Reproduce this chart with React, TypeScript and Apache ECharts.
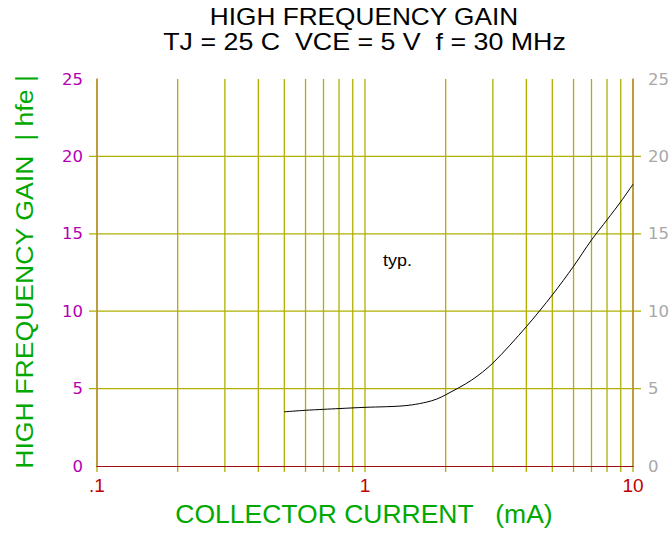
import React, { useEffect, useRef } from "react";
import * as echarts from "echarts";

const currentMA = [0.5, 0.6, 0.7, 0.8, 1.0, 1.2, 1.35, 1.5, 1.7, 1.85, 2.0, 2.5, 3, 4, 5, 6, 7, 8, 9, 10];
const hfe = [3.5, 3.6, 3.66, 3.71, 3.79, 3.83, 3.87, 3.95, 4.13, 4.32, 4.6, 5.55, 6.65, 9.0, 11.05, 12.9, 14.6, 15.9, 17.07, 18.2];
const gridX = [0.1, 0.2, 0.3, 0.4, 0.5, 0.6, 0.7, 0.8, 0.9, 1, 2, 3, 4, 5, 6, 7, 8, 9, 10];
const gridY = [5, 10, 15, 20];
const titleLines = ["HIGH FREQUENCY GAIN", "TJ = 25 C  VCE = 5 V  f = 30 MHz"];
const xName = "COLLECTOR CURRENT   (mA)";
const yName = "HIGH FREQUENCY GAIN  | hfe |";
const note = "typ.";

const GRID = "#b0b000";
const FONT = '"Liberation Sans", Arial, sans-serif';

export default function App() {
  const ref = useRef<HTMLDivElement>(null);
  useEffect(() => {
    if (!ref.current) return;
    const chart = echarts.init(ref.current, null, { renderer: "svg" });
    const option: any = {
      animation: false,
      backgroundColor: "#ffffff",
      grid: { left: 97, right: 39, top: 79, bottom: 67 },
      xAxis: [
        {
          type: "log",
          logBase: 10,
          min: 0.1,
          max: 10,
          position: "bottom",
          z: 2,
          axisLine: { show: true, lineStyle: { color: "#d02020", width: 1 } },
          axisTick: { show: false },
          splitLine: { show: false },
          minorSplitLine: { show: false },
          axisLabel: {
            color: "#c00000",
            fontFamily: FONT,
            fontSize: 19,
            margin: 10,
            formatter: (v: number) => (Math.abs(v - 0.1) < 1e-9 ? ".1" : String(Math.round(v))),
          },
        },
        {
          type: "log",
          logBase: 10,
          min: 0.1,
          max: 10,
          position: "top",
          z: 2,
          axisLine: { show: true, lineStyle: { color: "#a01010", width: 1 } },
          axisTick: { show: false },
          axisLabel: { show: false },
          splitLine: { show: false },
        },
      ],
      yAxis: [
        {
          type: "value",
          min: 0,
          max: 25,
          interval: 5,
          position: "left",
          z: 2,
          axisLine: { show: true, lineStyle: { color: "#b8913a", width: 1.6 } },
          axisTick: { show: false },
          splitLine: { show: false },
          axisLabel: { color: "#b400b4", fontFamily: '"DejaVu Sans", sans-serif', fontSize: 16.5, margin: 14 },
        },
        {
          type: "value",
          min: 0,
          max: 25,
          interval: 5,
          position: "right",
          z: 2,
          axisLine: { show: true, lineStyle: { color: "#b8913a", width: 1.6 } },
          axisTick: { show: false },
          splitLine: { show: false },
          axisLabel: { color: "#a8a8a8", fontFamily: '"DejaVu Sans", sans-serif', fontSize: 16.5, margin: 15 },
        },
      ],
      series: [
        {
          type: "custom",
          z: 1,
          silent: true,
          data: gridX.map((x) => [x, 0]),
          renderItem: (params: any, api: any) => {
            const x = api.value(0);
            const p0 = api.coord([x, 0]);
            const p1 = api.coord([x, 25]);
            return {
              type: "line",
              shape: { x1: p0[0], y1: p0[1] + 6, x2: p1[0], y2: p1[1] },
              style: { stroke: GRID, lineWidth: 1.3 },
            };
          },
        },
        {
          type: "custom",
          z: 1,
          silent: true,
          data: gridY.map((y) => [1, y]),
          renderItem: (params: any, api: any) => {
            const y = api.value(1);
            const p0 = api.coord([0.1, y]);
            const p1 = api.coord([10, y]);
            return {
              type: "line",
              shape: { x1: p0[0] - 8, y1: p0[1], x2: p1[0] + 8, y2: p1[1] },
              style: { stroke: GRID, lineWidth: 1.3 },
            };
          },
        },
        {
          type: "line",
          z: 3,
          data: currentMA.map((x, i) => [x, hfe[i]]),
          showSymbol: false,
          smooth: 0.3,
          lineStyle: { color: "#000000", width: 1 },
        },
      ],
      graphic: [
        {
          type: "text",
          x: 364,
          y: 17,
          scaleX: 1.14,
          style: { text: titleLines[0], font: `23px ${FONT}`, fill: "#000", align: "center", verticalAlign: "middle" },
        },
        {
          type: "text",
          x: 364.5,
          y: 41.5,
          scaleX: 1.165,
          style: { text: titleLines[1], font: `23px ${FONT}`, fill: "#000", align: "center", verticalAlign: "middle" },
        },
        {
          type: "text",
          x: 364,
          y: 514,
          scaleX: 1.06,
          style: { text: xName, font: `25px ${FONT}`, fill: "#00a800", align: "center", verticalAlign: "middle" },
        },
        {
          type: "text",
          x: 24,
          y: 272,
          rotation: Math.PI / 2,
          scaleX: 1.11,
          style: { text: yName, font: `24px ${FONT}`, fill: "#00a800", align: "center", verticalAlign: "middle" },
        },
        {
          type: "text",
          x: 383,
          y: 261,
          scaleX: 1.12,
          style: { text: note, font: `16px ${FONT}`, fill: "#000", align: "left", verticalAlign: "middle" },
        },
      ],
    };
    chart.setOption(option);
    return () => chart.dispose();
  }, []);
  return <div ref={ref} style={{ width: 672, height: 533, position: "absolute", left: 0, top: 0 }} />;
}
